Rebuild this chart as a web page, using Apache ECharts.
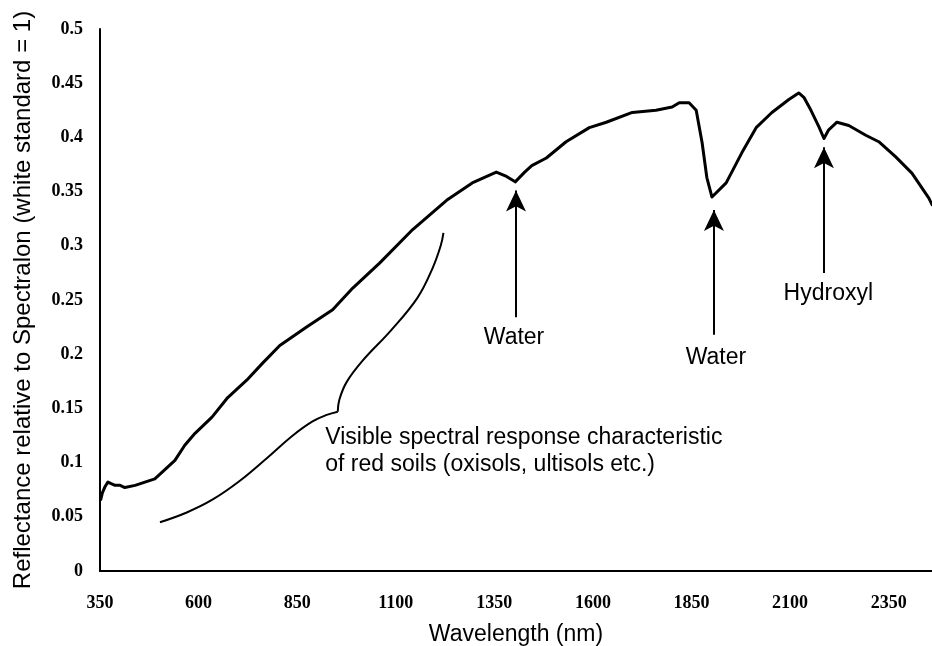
<!DOCTYPE html>
<html>
<head>
<meta charset="utf-8">
<script src="https://cdn.jsdelivr.net/npm/echarts@6/dist/echarts.min.js"></script>
<style>
  html, body { margin: 0; padding: 0; background: #fff; }
  #chart { width: 932px; height: 646px; }
</style>
</head>
<body>
<div id="chart"></div>
<script>
// Soil reflectance spectrum: wavelength (nm) and reflectance relative to Spectralon
const soilWavelength = [352, 356, 363, 370, 388, 401, 413, 439, 464, 489, 507, 540, 565, 591, 634, 674, 722, 763, 806, 874, 940, 991, 1059, 1143, 1229, 1294, 1355, 1381, 1403, 1427, 1445, 1482, 1532, 1591, 1634, 1700, 1760, 1801, 1819, 1844, 1862, 1877, 1889, 1902, 1938, 1978, 2014, 2054, 2097, 2122, 2135, 2153, 2173, 2186, 2198, 2219, 2249, 2292, 2325, 2368, 2409, 2452, 2460];
const soilReflectance = [0.066, 0.072, 0.078, 0.082, 0.079, 0.079, 0.077, 0.079, 0.082, 0.085, 0.091, 0.102, 0.116, 0.127, 0.142, 0.160, 0.176, 0.192, 0.208, 0.225, 0.241, 0.261, 0.284, 0.315, 0.342, 0.358, 0.368, 0.364, 0.359, 0.368, 0.374, 0.381, 0.396, 0.409, 0.414, 0.423, 0.425, 0.428, 0.432, 0.432, 0.425, 0.395, 0.363, 0.345, 0.358, 0.386, 0.409, 0.423, 0.435, 0.441, 0.437, 0.425, 0.410, 0.399, 0.407, 0.414, 0.411, 0.402, 0.396, 0.382, 0.367, 0.344, 0.338];

// Visible-range response typical of red soils (oxisols, ultisols)
const redSoilWavelength = [502, 570, 636, 704, 773, 839, 889, 925, 953, 957, 975, 1016, 1088, 1155, 1193, 1214, 1221];
const redSoilReflectance = [0.045, 0.054, 0.066, 0.083, 0.104, 0.125, 0.138, 0.144, 0.147, 0.158, 0.174, 0.194, 0.222, 0.252, 0.279, 0.300, 0.312];
const redSoilCuspIndex = 8;

// Absorption features: arrow wavelength, arrow base and tip, label position
const featureNames = ['Water', 'Water', 'Hydroxyl'];
const featureWavelength = [1405, 1907, 2186];
const arrowBase = [0.234, 0.218, 0.275];
const arrowTip = [0.351, 0.333, 0.391];
const featureLabelX = [1400, 1912, 2197];
const featureLabelY = [0.215, 0.197, 0.256];

const redSoilNote = ['Visible spectral response characteristic', 'of red soils (oxisols, ultisols etc.)'];
const redSoilNoteX = 920;
const redSoilNoteY = 0.111;

// Axis tick labels
const xTickLabels = ['350', '600', '850', '1100', '1350', '1600', '1850', '2100', '2350'];
const yTickLabels = ['0', '0.05', '0.1', '0.15', '0.2', '0.25', '0.3', '0.35', '0.4', '0.45', '0.5'];

const sans = '"Liberation Sans", Arial, sans-serif';
const serif = '"Liberation Serif", "Times New Roman", serif';
const zip = (xs, ys) => xs.map((x, i) => [x, ys[i]]);
const pickLabel = (labels, v) => labels.find(l => Math.abs(parseFloat(l) - v) < 1e-6) || '';

const redSoil = zip(redSoilWavelength, redSoilReflectance);

const chart = echarts.init(document.getElementById('chart'), null, { renderer: 'canvas' });

const option = {
  animation: false,
  backgroundColor: '#ffffff',
  grid: { left: 100, right: 0, top: 29, bottom: 75, containLabel: false, outerBoundsMode: 'none' },
  xAxis: [
    {
      type: 'value', min: 350, max: 2460, interval: 250,
      axisLine: { show: true, onZero: false, lineStyle: { color: '#000', width: 2 } },
      axisTick: { show: false },
      splitLine: { show: false },
      axisLabel: {
        color: '#000', fontFamily: serif, fontSize: 18, fontWeight: 'bold', margin: 23,
        showMaxLabel: false,
        formatter: v => pickLabel(xTickLabels, v)
      },
      name: 'Wavelength (nm)', nameLocation: 'middle', nameGap: 52,
      nameTextStyle: { color: '#000', fontFamily: sans, fontSize: 23 }
    },
    {
      type: 'value', position: 'top', min: 350, max: 2460,
      axisLine: { show: true, lineStyle: { color: '#000', width: 2 } },
      axisTick: { show: false }, axisLabel: { show: false }, splitLine: { show: false }
    }
  ],
  yAxis: {
    type: 'value', min: 0, max: 0.5, interval: 0.05,
    axisLine: { show: true, lineStyle: { color: '#000', width: 2 } },
    axisTick: { show: false },
    splitLine: { show: false },
    axisLabel: {
      color: '#000', fontFamily: serif, fontSize: 18, fontWeight: 'bold', margin: 17,
      formatter: v => pickLabel(yTickLabels, v)
    },
    name: 'Reflectance relative to Spectralon (white standard = 1)',
    nameLocation: 'middle', nameGap: 65, nameRotate: 90,
    nameTextStyle: { color: '#000', fontFamily: sans, fontSize: 24 }
  },
  series: [
    {
      name: 'Soil spectrum', type: 'line', xAxisIndex: 0,
      data: zip(soilWavelength, soilReflectance),
      showSymbol: false, symbol: 'none',
      lineStyle: { color: '#000', width: 3, join: 'round', cap: 'round' },
      silent: true
    },
    {
      name: 'Red soils (lower)', type: 'line', xAxisIndex: 0,
      data: redSoil.slice(0, redSoilCuspIndex + 1),
      smooth: 0.4, showSymbol: false, symbol: 'none',
      lineStyle: { color: '#000', width: 2 }, silent: true
    },
    {
      name: 'Red soils (upper)', type: 'line', xAxisIndex: 0,
      data: redSoil.slice(redSoilCuspIndex),
      smooth: 0.4, showSymbol: false, symbol: 'none',
      lineStyle: { color: '#000', width: 2 }, silent: true
    },
    {
      name: 'Feature arrows', type: 'line', xAxisIndex: 0, data: [],
      markLine: {
        silent: true, animation: false,
        symbol: ['none', 'arrow'], symbolSize: [15, 21],
        lineStyle: { color: '#000', width: 2, type: 'solid' },
        label: { show: false },
        emphasis: { disabled: true },
        data: featureWavelength.map((x, i) => [
          { coord: [x, arrowBase[i]] },
          { coord: [x, arrowTip[i]] }
        ])
      }
    },
    {
      name: 'Feature labels', type: 'scatter', xAxisIndex: 0,
      symbolSize: 1, itemStyle: { color: 'rgba(0,0,0,0)', opacity: 1 }, silent: true,
      data: featureNames.map((n, i) => ({ value: [featureLabelX[i], featureLabelY[i]], name: n })),
      label: {
        show: true, position: 'inside', formatter: p => p.name,
        color: '#000', fontFamily: sans, fontSize: 23
      }
    },
    {
      name: 'Red soil note', type: 'scatter', xAxisIndex: 0,
      symbolSize: 1, itemStyle: { color: 'rgba(0,0,0,0)', opacity: 1 }, silent: true,
      data: [[redSoilNoteX, redSoilNoteY]],
      label: {
        show: true, position: 'right', distance: 0, align: 'left', verticalAlign: 'middle',
        formatter: () => redSoilNote.join('\n'),
        color: '#000', fontFamily: sans, fontSize: 23, lineHeight: 27
      }
    }
  ]
};

chart.setOption(option);
</script>
</body>
</html>
